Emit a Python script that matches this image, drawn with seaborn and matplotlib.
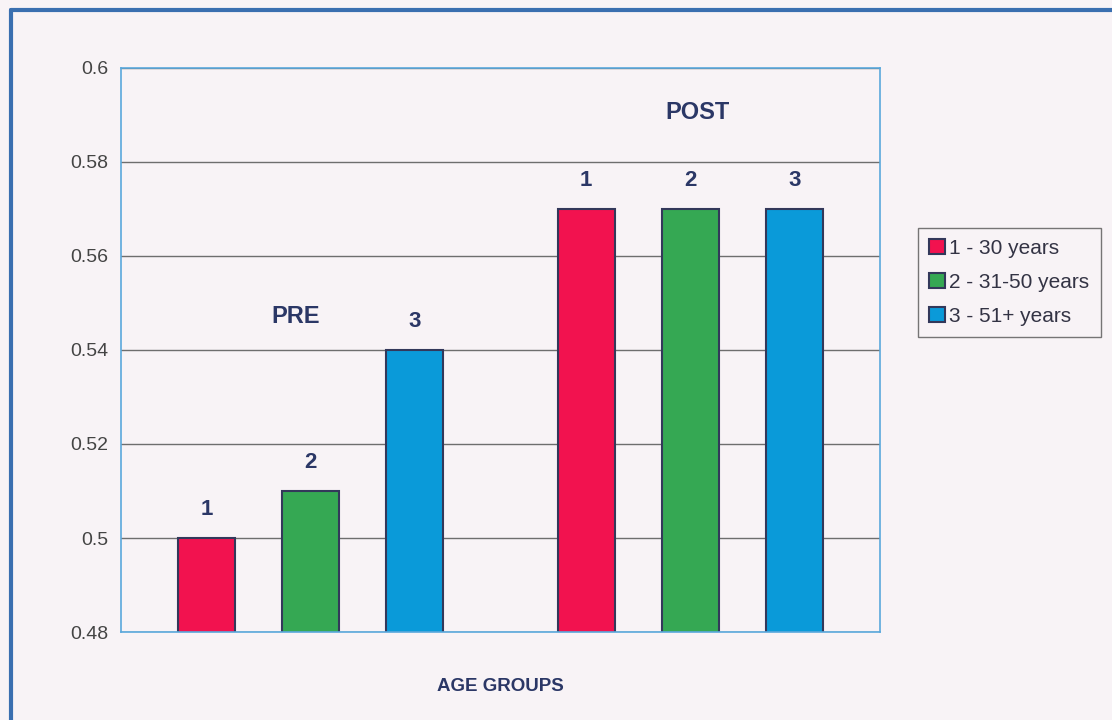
import matplotlib
matplotlib.use('Agg')
import matplotlib.pyplot as plt
import seaborn as sns
import pandas as pd

# data
phases = ['PRE', 'POST']
age_groups = ['1 - 30 years', '2 - 31-50 years', '3 - 51+ years']
bar_tags = ['1', '2', '3']
pre_vals = [0.50, 0.51, 0.54]
post_vals = [0.57, 0.57, 0.57]
colors = ['#f2124f', '#35a853', '#0a9ad9']

df = pd.DataFrame({
    'phase': [p for p in phases for _ in age_groups],
    'age': age_groups * 2,
    'value': pre_vals + post_vals,
})

sns.set_style('white')
plt.rcParams['font.family'] = ['Liberation Sans', 'DejaVu Sans']

bg = '#f8f3f6'
navy = '#2b3766'
fig = plt.figure(figsize=(11.12, 7.2), dpi=100, facecolor=bg)
ax = fig.add_axes([0.1088, 0.1222, 0.6826, 0.7834])
ax.set_facecolor(bg)

sns.barplot(data=df, x='phase', y='value', hue='age', hue_order=age_groups,
            palette=colors, saturation=1, width=0.822, gap=0.45,
            edgecolor='#33385a', linewidth=1.5, ax=ax)

ax.set_ylim(0.48, 0.6)
ax.set_yticks([0.48, 0.5, 0.52, 0.54, 0.56, 0.58, 0.6])
ax.set_yticklabels(['0.48', '0.5', '0.52', '0.54', '0.56', '0.58', '0.6'])
ax.tick_params(axis='y', labelsize=14, labelcolor='#444444', length=5,
               width=1, color='#777777', pad=4)
ax.set_xticks([])
ax.set_xlabel('')
ax.set_ylabel('')
ax.yaxis.grid(True, color='#6e6e6e', linewidth=1)
ax.set_axisbelow(True)
for s in ax.spines.values():
    s.set_color('#5aa8dc')
    s.set_linewidth(1.2)

# number labels above bars
for cont, tag in zip(ax.containers, bar_tags):
    ax.bar_label(cont, labels=[tag, tag], padding=13, fontsize=16,
                 fontweight='bold', color=navy)

ax.text(-0.04, 0.5472, 'PRE', fontsize=17, fontweight='bold', color=navy,
        ha='center', va='center')
ax.text(1.02, 0.5906, 'POST', fontsize=17, fontweight='bold', color=navy,
        ha='center', va='center')
fig.text(0.45, 0.047, 'AGE GROUPS', fontsize=13.5, fontweight='bold',
         color=navy, ha='center', va='center')

leg = ax.legend(loc='upper left', bbox_to_anchor=(0.8255, 0.684),
                bbox_transform=fig.transFigure, fontsize=15, frameon=True,
                fancybox=False, handlelength=0.75, handleheight=0.75,
                handletextpad=0.2, borderpad=0.55, labelspacing=0.72,
                borderaxespad=0, title=None)
leg.get_frame().set_edgecolor('#555555')
leg.get_frame().set_facecolor(bg)
leg.get_frame().set_linewidth(1)
for t in leg.get_texts():
    t.set_color('#333344')

# outer frame of the chart
fig.add_artist(plt.Line2D([0.0099, 1.0], [0.986, 0.986], color='#3a6fb0',
                          linewidth=3, transform=fig.transFigure))
fig.add_artist(plt.Line2D([0.0099, 0.0099], [0.0, 0.986], color='#3a6fb0',
                          linewidth=3, transform=fig.transFigure))

fig.savefig('out.png', dpi=100, facecolor=bg)
